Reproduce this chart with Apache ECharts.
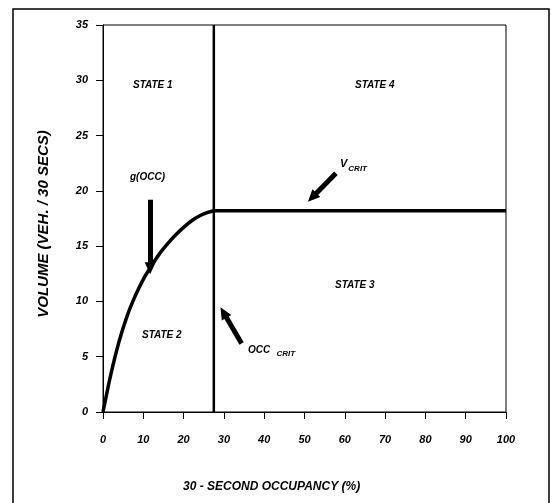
<!DOCTYPE html>
<html>
<head>
<meta charset="utf-8">
<script src="https://cdn.jsdelivr.net/npm/echarts@6/dist/echarts.min.js"></script>
<style>html,body{margin:0;padding:0;background:#fff;}#c{width:551px;height:503px;}</style>
</head>
<body>
<div id="c"></div>
<script>
// Data
const xTicks = [0, 10, 20, 30, 40, 50, 60, 70, 80, 90, 100];
const yTicks = [0, 5, 10, 15, 20, 25, 30, 35];
const curveX = [0, 2, 4, 6, 8, 10, 12, 14, 16, 18, 20, 22, 24, 26, 27.5];
const curveY = [0, 3.5, 6.4, 8.7, 10.5, 12.0, 13.2, 14.3, 15.2, 16.0, 16.7, 17.3, 17.75, 18.05, 18.2];
const occCrit = 27.5;
const vCrit = 18.2;
const plateauX = [27.5, 100];
const verticalY = [0, 35];
// arrows: [x1,y1,x2,y2] tail -> head (data coords)
const arrowG = [11.7, 19.2, 11.7, 13.0];
const arrowV = [57.8, 21.6, 51.9, 19.4];
const arrowO = [34.4, 6.2, 29.9, 9.0];

const FONT = '"Liberation Sans Narrow", "Liberation Sans", Arial, sans-serif';
const chart = echarts.init(document.getElementById('c'), null, {renderer: 'canvas'});

function arrowLine(a) {
  return [{coord: [a[0], a[1]], symbol: 'none'}, {coord: [a[2], a[3]], symbol: 'triangle', symbolSize: [11, 12]}];
}

const txt = (x, y, text, extra) => Object.assign({
  type: 'text', left: x, top: y,
  style: {text: text, fill: '#000', font: 'italic bold 10px ' + FONT}
}, extra || {});

chart.setOption({
  animation: false,
  backgroundColor: '#fff',
  grid: {left: 103, right: 45, top: 25, bottom: 91, show: true, borderColor: '#000', borderWidth: 1, backgroundColor: 'transparent'},
  xAxis: {
    type: 'value', min: 0, max: 100, interval: 10,
    axisLine: {show: true, lineStyle: {color: '#000', width: 1}},
    axisTick: {show: true, inside: false, length: 7, lineStyle: {color: '#000'}},
    splitLine: {show: false},
    axisLabel: {margin: 22, color: '#000', fontSize: 11, fontStyle: 'italic', fontWeight: 'bold', fontFamily: FONT,
      formatter: v => xTicks.includes(v) ? String(v) : ''}
  },
  yAxis: {
    type: 'value', min: 0, max: 35, interval: 5,
    axisLine: {show: true, lineStyle: {color: '#000', width: 1}},
    axisTick: {show: true, inside: false, length: 7, lineStyle: {color: '#000'}},
    splitLine: {show: false},
    axisLabel: {margin: 15, color: '#000', fontSize: 11, fontStyle: 'italic', fontWeight: 'bold', fontFamily: FONT,
      formatter: v => yTicks.includes(v) ? String(v) : ''}
  },
  series: [
    {type: 'line', name: 'g(OCC)', data: curveX.map((x, i) => [x, curveY[i]]), smooth: 0.25, showSymbol: false,
      lineStyle: {color: '#000', width: 3.5}, z: 3},
    {type: 'line', name: 'VCRIT', data: plateauX.map(x => [x, vCrit]), showSymbol: false,
      lineStyle: {color: '#000', width: 3.5}, z: 3},
    {type: 'line', name: 'OCCCRIT', data: verticalY.map(y => [occCrit, y]), showSymbol: false,
      lineStyle: {color: '#000', width: 2.5}, z: 3,
      markLine: {silent: true, symbol: ['none', 'triangle'], label: {show: false},
        lineStyle: {color: '#000', width: 5, type: 'solid'},
        data: [arrowLine(arrowG), arrowLine(arrowV), arrowLine(arrowO)]}}
  ],
  graphic: [
    {type: 'rect', shape: {x: 13, y: 9, width: 536, height: 520}, style: {fill: 'none', stroke: '#000', lineWidth: 1.5}, silent: true},
    txt(133, 80, 'STATE 1'),
    txt(355, 80, 'STATE 4'),
    txt(142, 330, 'STATE 2'),
    txt(335, 280, 'STATE 3'),
    txt(130, 172, 'g(OCC)'),
    {type: 'text', left: 340, top: 158, style: {
      text: '{a|V}{b|CRIT}', fill: '#000',
      rich: {a: {font: 'italic bold 11px ' + FONT, fill: '#000'}, b: {font: 'italic bold 8px ' + FONT, fill: '#000', padding: [10, 0, 0, 1]}}
    }},
    {type: 'text', left: 248, top: 345, style: {
      text: '{a|OCC}{b| CRIT}', fill: '#000',
      rich: {a: {font: 'italic bold 10px ' + FONT, fill: '#000'}, b: {font: 'italic bold 8px ' + FONT, fill: '#000', padding: [8, 0, 0, 4]}}
    }},
    {type: 'text', left: 183, top: 481, style: {text: '30 - SECOND OCCUPANCY (%)', fill: '#000', font: 'italic bold 12px ' + FONT}},
    {type: 'text', x: 44, y: 224, rotation: Math.PI / 2, style: {text: 'VOLUME (VEH. / 30 SECS)', fill: '#000', font: 'italic bold 15px ' + FONT, align: 'center', verticalAlign: 'middle'}}
  ]
});
</script>
</body>
</html>
